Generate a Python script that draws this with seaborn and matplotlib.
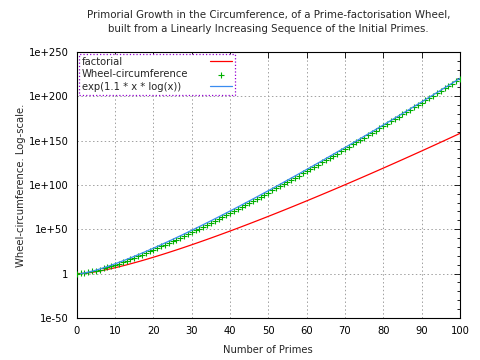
import numpy as np
import pandas as pd
import seaborn as sns
import matplotlib.pyplot as plt
from matplotlib.ticker import FixedLocator, FuncFormatter, MultipleLocator, NullFormatter

# first 100 primes (the wheel is built from these)
primes = [2, 3, 5, 7, 11, 13, 17, 19, 23, 29, 31, 37, 41, 43, 47, 53, 59, 61, 67, 71,
          73, 79, 83, 89, 97, 101, 103, 107, 109, 113, 127, 131, 137, 139, 149, 151,
          157, 163, 167, 173, 179, 181, 191, 193, 197, 199, 211, 223, 227, 229, 233,
          239, 241, 251, 257, 263, 269, 271, 277, 281, 283, 293, 307, 311, 313, 317,
          331, 337, 347, 349, 353, 359, 367, 373, 379, 383, 389, 397, 401, 409, 419,
          421, 431, 433, 439, 443, 449, 457, 461, 463, 467, 479, 487, 491, 499, 503,
          509, 521, 523, 541]
n_primes = list(range(0, 101))
y_ticks_exp = [-50, 0, 50, 100, 150, 200, 250]

labels = ["factorial", "Wheel-circumference", "exp(1.1 * x * log(x))"]
colors = ["#ff0000", "#00b000", "#3a8cf0"]

n = np.array(n_primes, dtype=float)
factorial = np.concatenate([[1.0], np.cumprod(n[1:])])
wheel = np.concatenate([[1.0], np.cumprod(np.array(primes, dtype=float))])
xb = n[1:]
expfit = np.exp(1.1 * xb * np.log(xb))

df_fact = pd.DataFrame({"x": n, "y": factorial})
df_wheel = pd.DataFrame({"x": n, "y": wheel})
df_exp = pd.DataFrame({"x": xb, "y": expfit})

sns.set_style("white")
plt.rcParams["font.family"] = "DejaVu Sans"
plt.rcParams["font.size"] = 7

fig = plt.figure(figsize=(4.8, 3.6), dpi=100)
ax = fig.add_axes([0.160, 0.117, 0.798, 0.739])

sns.lineplot(data=df_fact, x="x", y="y", ax=ax, color=colors[0], lw=0.9, label=labels[0])
sns.scatterplot(data=df_wheel, x="x", y="y", ax=ax, color=colors[1], marker="+",
                s=18, linewidth=0.8, label=labels[1], zorder=3)
sns.lineplot(data=df_exp, x="x", y="y", ax=ax, color=colors[2], lw=0.9, label=labels[2],
             zorder=4)

ax.set_yscale("log")
ax.set_xlim(0, 100)
ax.set_ylim(1e-50, 1e250)

ax.yaxis.set_major_locator(FixedLocator([10.0 ** e for e in y_ticks_exp]))
ax.yaxis.set_minor_locator(FixedLocator([10.0 ** e for e in range(-50, 251, 10)]))


def yfmt(v, pos):
    e = int(round(np.log10(v)))
    if e == 0:
        return "1"
    return "1e%+d" % e


ax.yaxis.set_major_formatter(FuncFormatter(yfmt))
ax.yaxis.set_minor_formatter(NullFormatter())
ax.xaxis.set_major_locator(MultipleLocator(10))

ax.tick_params(which="both", direction="in", top=True, right=True, colors="black",
               labelsize=7.2, pad=6)
ax.tick_params(which="major", length=4, width=0.6)
ax.tick_params(which="minor", length=2, width=0.6)
ax.grid(True, which="major", linestyle=(0, (1.5, 2.5)), color="#a0a0a0", linewidth=0.7)
for sp in ax.spines.values():
    sp.set_color("black")
    sp.set_linewidth(0.8)

ax.set_xlabel("Number of Primes", fontsize=7.2, labelpad=6)
ax.set_ylabel("Wheel-circumference. Log-scale.", fontsize=7.2, labelpad=2)
ax.set_title("Primorial Growth in the Circumference, of a Prime-factorisation Wheel,\n"
             "built from a Linearly Increasing Sequence of the Initial Primes.",
             fontsize=7.4, pad=14, linespacing=1.5)

leg = ax.legend(loc="upper left", markerfirst=False, fontsize=7.2, frameon=True,
                fancybox=False, borderaxespad=0.2, handlelength=2.2, labelspacing=0.25,
                borderpad=0.3)
frame = leg.get_frame()
frame.set_edgecolor("#9400d3")
frame.set_linestyle(":")
frame.set_linewidth(0.9)
frame.set_facecolor("white")
frame.set_alpha(1)
# left-justify texts, samples at the right end (gnuplot style)
try:
    col = leg._legend_handle_box.get_children()[0]
    col.align = "left"
    for item in col.get_children():
        item.mode = "expand"
        item.width = 150
except Exception:
    pass

fig.savefig("out.png", dpi=100)
